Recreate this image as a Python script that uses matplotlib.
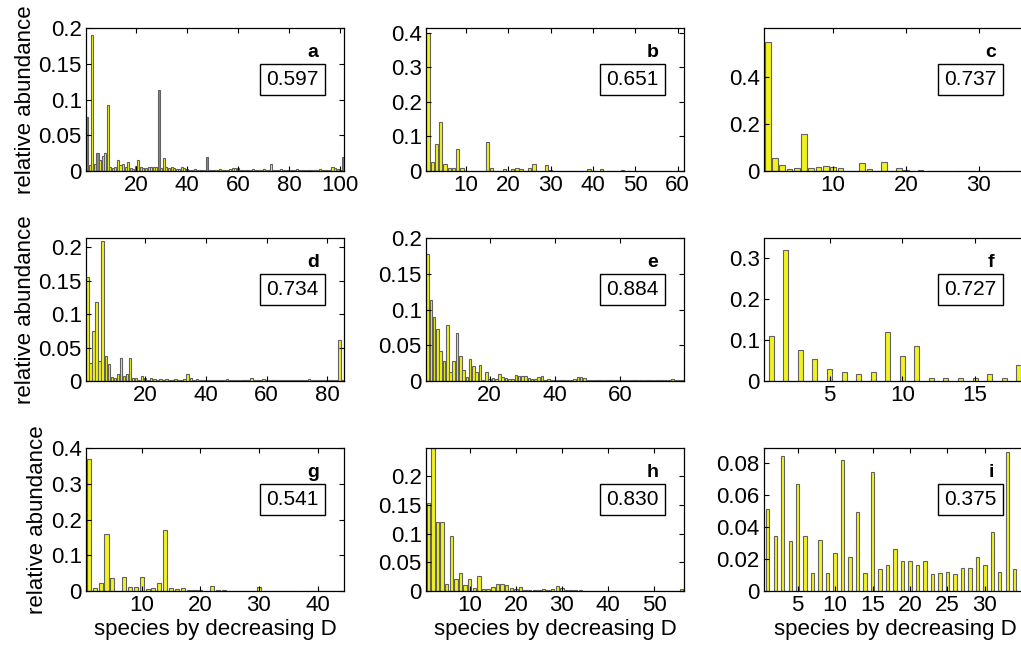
import matplotlib
matplotlib.use("Agg")
from matplotlib import pyplot as plt
from matplotlib.ticker import FuncFormatter

plt.rcParams['font.family'] = ['Liberation Sans', 'DejaVu Sans']

# relative abundance per species, sorted by decreasing D, one list per panel
a_vals = [0.075, 0.008, 0.19, 0.01, 0.025, 0.015, 0.021, 0.025, 0.092, 0.005,
          0.004, 0.005, 0.016, 0.008, 0.01, 0.006, 0.013, 0.004, 0.003, 0.007,
          0.015, 0.005, 0.004, 0.004, 0.006, 0.006, 0.005, 0.006, 0.113, 0.004,
          0.018, 0.005, 0.004, 0.006, 0.004, 0.003, 0.003, 0.006, 0.004, 0.003,
          0.002, 0.002, 0.003, 0.002, 0.002, 0.002, 0.002, 0.02, 0.002, 0.002,
          0.002, 0.002, 0.003, 0.002, 0.002, 0.002, 0.003, 0.004, 0.004, 0.004,
          0.002, 0.002, 0.002, 0.002, 0.002, 0.003, 0.002, 0.002, 0.002, 0.003,
          0.002, 0.002, 0.01, 0.002, 0.002, 0.002, 0.003, 0.002, 0.002, 0.002,
          0.002, 0.002, 0.003, 0.002, 0.002, 0.002, 0.002, 0.002, 0.002, 0.002,
          0.002, 0.003, 0.002, 0.002, 0.002, 0.002, 0.006, 0.004, 0.003, 0.002,
          0.02]
a_gray = [1, 5, 29, 48, 101]   # species drawn in grey in panel a

b_vals = [0.40, 0.025, 0.077, 0.143, 0.02, 0.01, 0.01, 0.065, 0.008, 0.0,
          0.0, 0.0, 0.0, 0.0, 0.083, 0.01, 0.0, 0.0, 0.005, 0.0,
          0.005, 0.01, 0.005, 0.0, 0.008, 0.02, 0.0, 0.0, 0.017, 0.004,
          0.0, 0.0, 0.0, 0.0, 0.0, 0.0, 0.0, 0.0, 0.005, 0.0,
          0.0, 0.005, 0.0, 0.0, 0.0, 0.0, 0.003, 0.0, 0.0, 0.0,
          0.0, 0.0, 0.0, 0.0, 0.0, 0.0, 0.0, 0.0, 0.0, 0.0, 0.0]

c_vals = [0.55, 0.054, 0.026, 0.01, 0.013, 0.157, 0.012, 0.017, 0.023, 0.015,
          0.014, 0.0, 0.0, 0.034, 0.008, 0.002, 0.04, 0.0, 0.012, 0.003,
          0.002, 0.005, 0.002, 0.002, 0.002, 0.002, 0.002, 0.002, 0.002, 0.002,
          0.002, 0.002, 0.002, 0.002, 0.002, 0.002]

d_vals = [0.156, 0.027, 0.075, 0.118, 0.03, 0.21, 0.038, 0.025, 0.006, 0.004,
          0.01, 0.035, 0.007, 0.01, 0.035, 0.005, 0.004, 0.002, 0.007, 0.004,
          0.002, 0.004, 0.003, 0.002, 0.003, 0.002, 0.003, 0.002, 0.002, 0.003,
          0.002, 0.002, 0.003, 0.01, 0.005, 0.002, 0.003, 0.002, 0.002, 0.002,
          0.002, 0.002, 0.002, 0.002, 0.002, 0.002, 0.003, 0.002, 0.002, 0.002,
          0.001, 0.001, 0.001, 0.002, 0.004, 0.001, 0.001, 0.001, 0.003, 0.001,
          0.001, 0.001, 0.001, 0.001, 0.001, 0.001, 0.001, 0.001, 0.001, 0.001,
          0.001, 0.001, 0.001, 0.003, 0.001, 0.001, 0.001, 0.001, 0.001, 0.001,
          0.001, 0.001, 0.001, 0.061, 0.002]

e_vals = [0.178, 0.113, 0.09, 0.073, 0.042, 0.028, 0.078, 0.012, 0.028, 0.067,
          0.035, 0.016, 0.006, 0.031, 0.021, 0.012, 0.023, 0.002, 0.012, 0.003,
          0.004, 0.003, 0.01, 0.006, 0.004, 0.003, 0.003, 0.009, 0.007, 0.007,
          0.007, 0.004, 0.003, 0.003, 0.005, 0.007, 0.002, 0.003, 0.002, 0.002,
          0.002, 0.002, 0.002, 0.002, 0.002, 0.003, 0.006, 0.005, 0.004, 0.002,
          0.002, 0.002, 0.002, 0.002, 0.002, 0.002, 0.002, 0.002, 0.002, 0.002,
          0.002, 0.002, 0.002, 0.002, 0.002, 0.002, 0.002, 0.002, 0.002, 0.002,
          0.002, 0.002, 0.002, 0.002, 0.002, 0.003, 0.002, 0.002, 0.002]

f_vals = [0.11, 0.32, 0.075, 0.053, 0.03, 0.022, 0.017, 0.022, 0.12, 0.062,
          0.084, 0.008, 0.007, 0.007, 0.008, 0.017, 0.008, 0.039]

g_vals = [0.37, 0.008, 0.022, 0.159, 0.036, 0.0, 0.038, 0.012, 0.012, 0.039,
          0.005, 0.008, 0.022, 0.171, 0.007, 0.005, 0.007, 0.004, 0.002, 0.004,
          0.001, 0.013, 0.003, 0.003, 0.0, 0.0, 0.0, 0.0, 0.0, 0.011,
          0.0, 0.0, 0.0, 0.0, 0.0, 0.0, 0.0, 0.0, 0.0, 0.0,
          0.0, 0.0, 0.0, 0.0]

h_vals = [0.153, 0.249, 0.12, 0.12, 0.012, 0.096, 0.021, 0.031, 0.01, 0.021,
          0.005, 0.026, 0.003, 0.003, 0.007, 0.013, 0.013, 0.01, 0.006, 0.004,
          0.007, 0.002, 0.001, 0.001, 0.001, 0.003, 0.001, 0.004, 0.008, 0.006,
          0.002, 0.001, 0.002, 0.001, 0.0, 0.0, 0.0, 0.0, 0.0, 0.0,
          0.0, 0.0, 0.0, 0.0, 0.0, 0.0, 0.0, 0.0, 0.0, 0.0,
          0.0, 0.0, 0.0, 0.0, 0.0, 0.003]

i_vals = [0.051, 0.034, 0.084, 0.031, 0.067, 0.034, 0.011, 0.032, 0.011, 0.024,
          0.082, 0.021, 0.049, 0.011, 0.074, 0.0135, 0.016, 0.026, 0.0185, 0.019,
          0.0165, 0.019, 0.0106, 0.011, 0.012, 0.0106, 0.0144, 0.0144, 0.021, 0.016,
          0.037, 0.012, 0.087, 0.0135]

labels = ['a', 'b', 'c', 'd', 'e', 'f', 'g', 'h', 'i']
scores = ['0.597', '0.651', '0.737', '0.734', '0.884', '0.727', '0.541', '0.830', '0.375']
all_vals = [a_vals, b_vals, c_vals, d_vals, e_vals, f_vals, g_vals, h_vals, i_vals]
xmax = [101.5, 61.5, 36.5, 85.5, 79.5, 18.5, 44.5, 56.5, 35.5]
ymax = [0.2, 0.414, 0.611, 0.214, 0.2, 0.348, 0.4, 0.249, 0.0892]
xticks = [[20, 40, 60, 80, 100], [10, 20, 30, 40, 50, 60], [10, 20, 30],
          [20, 40, 60, 80], [20, 40, 60], [5, 10, 15],
          [10, 20, 30, 40], [10, 20, 30, 40, 50], [5, 10, 15, 20, 25, 30]]
yticks = [[0, 0.05, 0.1, 0.15, 0.2], [0, 0.1, 0.2, 0.3, 0.4], [0, 0.2, 0.4],
          [0, 0.05, 0.1, 0.15, 0.2], [0, 0.05, 0.1, 0.15, 0.2], [0, 0.1, 0.2, 0.3],
          [0, 0.1, 0.2, 0.3, 0.4], [0, 0.05, 0.1, 0.15, 0.2], [0, 0.02, 0.04, 0.06, 0.08]]
bar_w = [0.8, 0.8, 0.8, 0.8, 0.8, 0.35, 0.7, 0.75, 0.45]

W, H = 1021, 650
fig = plt.figure(figsize=(W / 100, H / 100), dpi=100)
lefts = [86, 426, 764]
widths = [258, 258, 262]   # right column runs past the cropped edge
tops = [28, 238, 448]
ah = 143

fmt = FuncFormatter(lambda v, p: '%g' % v)
for k in range(9):
    r, c = divmod(k, 3)
    aw = widths[c]
    ax = fig.add_axes([lefts[c] / W, 1 - (tops[r] + ah) / H, aw / W, ah / H])
    vals = all_vals[k]
    x = list(range(1, len(vals) + 1))
    cols = ['#f2f21e'] * len(vals)
    if k == 0:
        for g in a_gray:
            cols[g - 1] = '#858585'
    ax.bar(x, vals, width=bar_w[k], color=cols, edgecolor='#626262', linewidth=0.8)
    ax.set_xlim(0.5, xmax[k])
    ax.set_ylim(0, ymax[k])
    ax.set_xticks(xticks[k])
    ax.set_yticks(yticks[k])
    ax.yaxis.set_major_formatter(fmt)
    ax.tick_params(direction='in', top=True, right=True, length=3.5, width=0.8,
                   labelsize=16, pad=3)
    for s in ax.spines.values():
        s.set_linewidth(0.9)
    # keep text at the same pixel spot in every column
    sx = 258 / aw
    ax.text(0.88 * sx, 0.83, labels[k], transform=ax.transAxes, ha='center', va='center',
            fontsize=14, fontweight='bold')
    ax.text(0.80 * sx, 0.64, scores[k], transform=ax.transAxes, ha='center', va='center',
            fontsize=15, bbox=dict(boxstyle='square,pad=0.3', facecolor='white',
                                   edgecolor='black', linewidth=1))
    if c == 0:
        ax.set_ylabel('relative abundance', fontsize=16, labelpad=2)
    if r == 2:
        ax.set_xlabel('species by decreasing D', fontsize=16, labelpad=2)

fig.savefig('out.png', dpi=100)
